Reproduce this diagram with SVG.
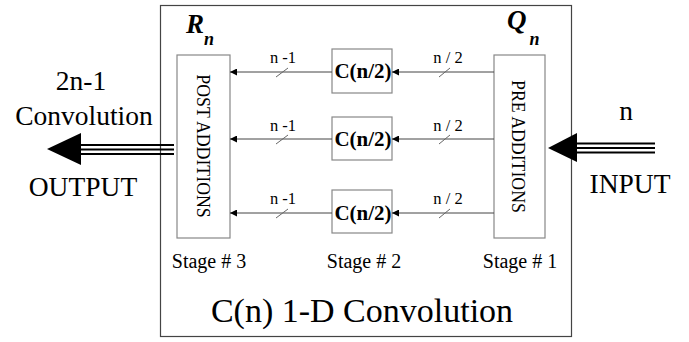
<svg xmlns="http://www.w3.org/2000/svg" width="689" height="342" viewBox="0 0 689 342">
  <style>
    .t { font-family: "Liberation Serif", "Times New Roman", serif; fill: #000; }
    .box { fill: #fff; stroke: #888; stroke-width: 1.2; }
    .frame { fill: #fff; stroke: #444; stroke-width: 1.2; }
    .wire { stroke: #444; stroke-width: 1; fill: none; }
    .tick { stroke: #666; stroke-width: 1; }
    .bus { stroke: #000; stroke-width: 2.2; }
    .sym { font-size: 27px; font-weight: bold; font-style: italic; }
    .sub { font-size: 18px; }
  </style>
  <defs>
    <marker id="head" markerWidth="7" markerHeight="7" refX="7" refY="3.5" orient="auto" markerUnits="userSpaceOnUse">
      <path d="M0,0 L7,3.5 L0,7 Z" fill="#000"/>
    </marker>
  </defs>
  <rect width="689" height="342" fill="#fff"/>

  <!-- convolution block frame -->
  <g id="frame">
    <rect class="frame" x="160.5" y="5.5" width="411" height="331"/>
    <text class="t" x="362" y="322" font-size="34" text-anchor="middle">C(n) 1-D Convolution</text>
    <text class="t" x="209" y="268" font-size="20" text-anchor="middle">Stage # 3</text>
    <text class="t" x="364" y="268" font-size="20" text-anchor="middle">Stage # 2</text>
    <text class="t" x="520" y="268" font-size="20" text-anchor="middle">Stage # 1</text>
  </g>

  <!-- stage 3: post additions -->
  <g id="post">
    <rect class="box" x="177" y="55" width="53" height="183"/>
    <text class="t" font-size="17.8" text-anchor="middle" transform="translate(197,146) rotate(90)">POST  ADDITIONS</text>
    <text class="t sym" x="186" y="33">R<tspan class="sub" dx="0" dy="12">n</tspan></text>
  </g>

  <!-- stage 1: pre additions -->
  <g id="pre">
    <rect class="box" x="494" y="55" width="51" height="183"/>
    <text class="t" font-size="17.8" text-anchor="middle" transform="translate(512,146.5) rotate(90)">PRE  ADDITIONS</text>
    <text class="t sym" x="507" y="29">Q<tspan class="sub" dx="3" dy="16">n</tspan></text>
  </g>

  <!-- stage 2: half-size convolutions -->
  <g id="c1">
    <rect class="box" x="332" y="49" width="60" height="44"/>
    <text class="t" x="363" y="78" font-size="21" font-weight="bold" text-anchor="middle">C(n/2)</text>
  </g>
  <g id="c2">
    <rect class="box" x="332" y="117" width="60" height="43"/>
    <text class="t" x="363" y="146" font-size="21" font-weight="bold" text-anchor="middle">C(n/2)</text>
  </g>
  <g id="c3">
    <rect class="box" x="332" y="190" width="60" height="43"/>
    <text class="t" x="363" y="220" font-size="21" font-weight="bold" text-anchor="middle">C(n/2)</text>
  </g>

  <!-- connectors -->
  <g id="connectors">
    <g>
      <line class="wire" x1="494" y1="72" x2="392" y2="72" marker-end="url(#head)"/>
      <line class="wire" x1="494" y1="139" x2="392" y2="139" marker-end="url(#head)"/>
      <line class="wire" x1="494" y1="213" x2="392" y2="213" marker-end="url(#head)"/>
      <line class="wire" x1="332" y1="72" x2="230" y2="72" marker-end="url(#head)"/>
      <line class="wire" x1="332" y1="139" x2="230" y2="139" marker-end="url(#head)"/>
      <line class="wire" x1="332" y1="213" x2="230" y2="213" marker-end="url(#head)"/>
    </g>
    <g>
      <line class="tick" x1="276" y1="77" x2="288" y2="68"/>
      <line class="tick" x1="276" y1="144" x2="288" y2="135"/>
      <line class="tick" x1="276" y1="218" x2="288" y2="209"/>
      <line class="tick" x1="439" y1="77" x2="450" y2="68"/>
      <line class="tick" x1="439" y1="144" x2="450" y2="135"/>
      <line class="tick" x1="439" y1="218" x2="450" y2="209"/>
    </g>
    <g class="t" font-size="16.5" text-anchor="middle">
      <text x="283" y="63">n -1</text>
      <text x="283" y="131">n -1</text>
      <text x="283" y="204">n -1</text>
      <text x="448" y="63">n / 2</text>
      <text x="448" y="131">n / 2</text>
      <text x="448" y="204">n / 2</text>
    </g>

    <!-- output bus -->
    <g id="output">
      <line class="bus" x1="78" y1="145" x2="174" y2="145"/>
      <line class="bus" x1="78" y1="149.5" x2="174" y2="149.5"/>
      <line class="bus" x1="78" y1="154" x2="174" y2="154"/>
      <path d="M47,149 L81,133 L81,165 Z" fill="#000"/>
    </g>
    <!-- input bus -->
    <g id="input">
      <line class="bus" x1="574" y1="143.5" x2="655" y2="143.5"/>
      <line class="bus" x1="574" y1="148" x2="655" y2="148"/>
      <line class="bus" x1="574" y1="152.5" x2="655" y2="152.5"/>
      <path d="M548,148 L577,133 L577,162 Z" fill="#000"/>
    </g>
  </g>

  <!-- external labels -->
  <g id="labels" class="t" font-size="27.5" text-anchor="middle">
    <text x="81" y="90">2n-1</text>
    <text x="84" y="125">Convolution</text>
    <text x="83" y="196">OUTPUT</text>
    <text x="626" y="120">n</text>
    <text x="630" y="193">INPUT</text>
  </g>
</svg>
